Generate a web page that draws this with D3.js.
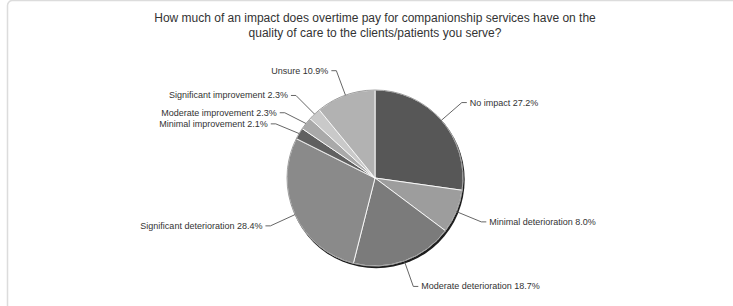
<!DOCTYPE html>
<html>
<head>
<meta charset="utf-8">
<script src="https://cdn.jsdelivr.net/npm/d3@7"></script>
<style>
  body { margin: 0; background: #fff; }
  text { font-family: "Liberation Sans", Arial, sans-serif; }
</style>
</head>
<body>
<div id="chart"></div>
<script>
// chart data (percent, clockwise from 12 o'clock)
const categories = ["No impact", "Minimal deterioration", "Moderate deterioration",
    "Significant deterioration", "Minimal improvement", "Moderate improvement",
    "Significant improvement", "Unsure"]
const values = [27.2, 8.0, 18.7, 28.4, 2.1, 2.3, 2.3, 10.9]
const titleLines = ["How much of an impact does overtime pay for companionship services have on the",
    "quality of care to the clients/patients you serve?"]

const shades = ["#575757", "#9d9d9d", "#7b7b7b", "#8a8a8a", "#606060", "#a9a9a9", "#c9c9c9", "#b2b2b2"]
// small vertical nudges so the crowded labels on the left don't overlap
const labelNudge = {"Minimal improvement": 4, "Moderate improvement": 6, "Significant improvement": 1, "Unsure": 1}

const width = 733, height = 306
const cx = 375, cy = 178, radius = 88

const svg = d3.select("#chart")
    .append("svg")
    .attr("width", width)
    .attr("height", height)

// light frame round the card (right/bottom edges fall outside the window)
svg.append("rect")
    .attr("x", 7.5).attr("y", 0.5)
    .attr("width", 800).attr("height", 400)
    .attr("rx", 5)
    .attr("fill", "none")
    .attr("stroke", "#dcdcdc")
    .attr("stroke-width", 1.5)

// title
svg.append("text")
    .attr("x", cx)
    .attr("y", 22)
    .attr("text-anchor", "middle")
    .attr("font-size", 12)
    .attr("fill", "#333")
    .selectAll("tspan")
    .data(titleLines)
    .enter()
    .append("tspan")
    .attr("x", cx)
    .attr("dy", (d, i) => i === 0 ? 0 : 15)
    .text(d => d)

const data = categories.map((c, i) => ({name: c, value: values[i], color: shades[i]}))

const pie = d3.pie()
    .sort(null)
    .value(d => d.value)

const arcs = pie(data)

const arc = d3.arc()
    .innerRadius(0)
    .outerRadius(radius)

const g = svg.append("g")
    .attr("transform", "translate(" + cx + "," + cy + ")")

// dark shadow on the lower right edge
g.append("circle")
    .attr("cx", 1.2)
    .attr("cy", 1.8)
    .attr("r", radius + 0.5)
    .attr("fill", "#1e1e1e")

g.selectAll("path.slice")
    .data(arcs)
    .enter()
    .append("path")
    .attr("class", "slice")
    .attr("d", arc)
    .attr("fill", d => d.data.color)
    .attr("stroke", "#fff")
    .attr("stroke-width", 0.9)

g.append("circle")
    .attr("r", radius)
    .attr("fill", "none")
    .attr("stroke", "#666")
    .attr("stroke-width", 0.6)

// leader lines and labels
const bendRadius = 115
arcs.forEach(function (d) {
    const mid = (d.startAngle + d.endAngle) / 2
    const sx = Math.sin(mid), sy = -Math.cos(mid)
    const right = sx > 0
    const nudge = labelNudge[d.data.name] || 0
    const p0 = [radius * sx, radius * sy]
    const p1 = [bendRadius * sx, bendRadius * sy + nudge]
    const p2 = [p1[0] + (right ? 5 : -5), p1[1]]

    g.append("polyline")
        .attr("points", [p0, p1, p2].map(p => p.join(",")).join(" "))
        .attr("fill", "none")
        .attr("stroke", "#555")
        .attr("stroke-width", 0.9)

    g.append("text")
        .attr("x", p2[0] + (right ? 3 : -3))
        .attr("y", p2[1] + 3)
        .attr("text-anchor", right ? "start" : "end")
        .attr("font-size", 9)
        .attr("fill", "#333")
        .text(d.data.name + " " + d.data.value.toFixed(1) + "%")
})
</script>
</body>
</html>
